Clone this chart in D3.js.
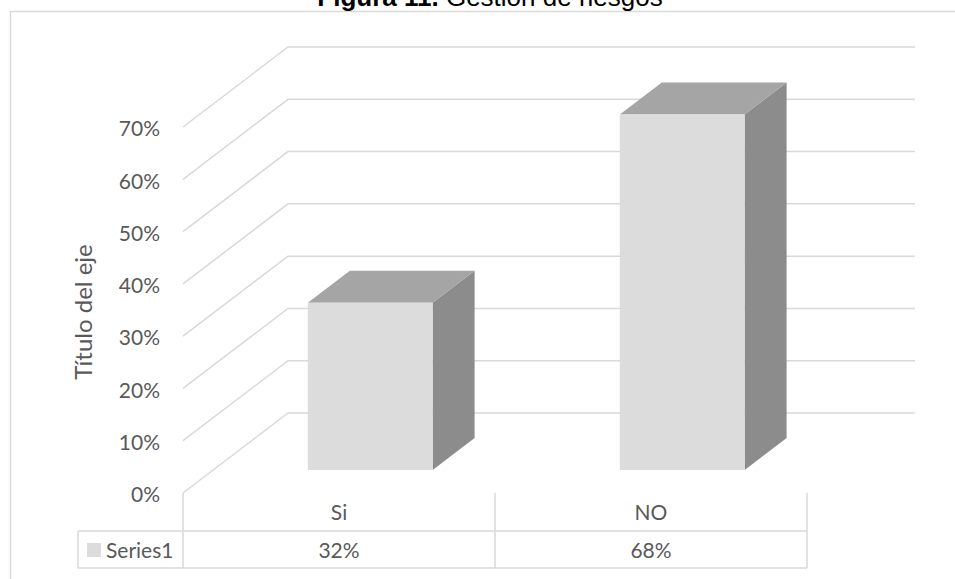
<!DOCTYPE html>
<html>
<head>
<meta charset="utf-8">
<script src="https://cdn.jsdelivr.net/npm/d3@7"></script>
<style>
  html, body { margin: 0; padding: 0; background: #fff; }
  svg { display: block; }
  text { font-family: Lato, "Open Sans", sans-serif; fill: #595959; }
</style>
</head>
<body>
<svg id="chart" width="955" height="579"></svg>
<script>
// Data
const categories = ["Si", "NO"];
const seriesName = "Series1";
const values = [0.32, 0.68];
const tickValues = [0, 0.1, 0.2, 0.3, 0.4, 0.5, 0.6, 0.7];
const axisTitle = "Título del eje";

const svg = d3.select("#chart");

// Chart frame
svg.append("rect")
  .attr("x", 10.5).attr("y", 11.5)
  .attr("width", 960).attr("height", 600)
  .attr("fill", "none").attr("stroke", "#d9d9d9").attr("stroke-width", 1.5);

// Title (sits partly above the frame)
const title = svg.append("text")
  .attr("x", 490).attr("y", 6)
  .attr("text-anchor", "middle")
  .style("font-family", "'Liberation Sans', Arial, sans-serif")
  .style("font-size", "26px")
  .style("fill", "#000");
title.append("tspan").style("font-weight", "bold").text("Figura 11.");
title.append("tspan").text(" Gestión de riesgos");

// Back wall geometry and oblique depth
const backLeft = 288, backRight = 915;
const y = d3.scaleLinear().domain([0, 0.7]).range([413, 47]);
const depthDX = -105, depthDY = 80;          // back wall -> front edge
const fmt = d3.format(".0%");

// Table columns
const tableLeft = 183, tableRight = 807;
const x = d3.scaleBand().domain(categories).range([tableLeft, tableRight]);
const bw = x.bandwidth();

const grid = svg.append("g")
  .attr("stroke", "#d9d9d9").attr("stroke-width", 1.5).attr("fill", "none");

// Side wall diagonals + back wall horizontals
grid.selectAll("path.g").data(tickValues).join("path")
  .attr("class", "g")
  .attr("d", d => {
    const yb = y(d);
    return `M${backLeft + depthDX},${yb + depthDY} L${backLeft},${yb} L${backRight},${yb}`;
  });

// Tick labels on the front edge
svg.append("g").selectAll("text").data(tickValues).join("text")
  .attr("x", 160)
  .attr("y", d => y(d) + depthDY + 2)
  .attr("dy", "0.35em")
  .attr("text-anchor", "end")
  .style("font-size", "21px")
  .text(d => fmt(d));

// Axis title
svg.append("text")
  .attr("transform", `translate(92,${312}) rotate(-90)`)
  .attr("text-anchor", "middle")
  .style("font-size", "24px")
  .text(axisTitle);

// 3D columns
const frontDY = 57;            // bar front face below back-wall plane
const barDX = 42, barDY = -32; // bar depth
const bars = svg.append("g");
categories.forEach((c, i) => {
  const v = values[i];
  const x0 = x(c) + bw * 0.4, x1 = x(c) + bw * 0.8;
  const yTop = y(v) + frontDY, yBot = y(0) + frontDY;
  const g = bars.append("g");
  // side face
  g.append("path")
    .attr("d", `M${x1},${yTop} L${x1 + barDX},${yTop + barDY} L${x1 + barDX},${yBot + barDY} L${x1},${yBot} Z`)
    .attr("fill", "#8c8c8c");
  // top face
  g.append("path")
    .attr("d", `M${x0},${yTop} L${x0 + barDX},${yTop + barDY} L${x1 + barDX},${yTop + barDY} L${x1},${yTop} Z`)
    .attr("fill", "#a5a5a5");
  // front face
  g.append("rect")
    .attr("x", x0).attr("y", yTop)
    .attr("width", x1 - x0).attr("height", yBot - yTop)
    .attr("fill", "#dcdcdc");
});

// Data table
const t0 = 493, t1 = 531, t2 = 568, seriesLeft = 78;
const tbl = svg.append("g")
  .attr("stroke", "#d9d9d9").attr("stroke-width", 1.5).attr("fill", "none");
const colEdges = [tableLeft, ...categories.map(c => x(c) + bw)];
tbl.selectAll("line.v").data(colEdges).join("line")
  .attr("class", "v")
  .attr("x1", d => d).attr("x2", d => d)
  .attr("y1", t0).attr("y2", t2);
tbl.append("line").attr("x1", seriesLeft).attr("x2", tableRight).attr("y1", t1).attr("y2", t1);
tbl.append("line").attr("x1", seriesLeft).attr("x2", tableRight).attr("y1", t2).attr("y2", t2);
tbl.append("line").attr("x1", seriesLeft).attr("x2", seriesLeft).attr("y1", t1).attr("y2", t2);

// Category row
svg.append("g").selectAll("text").data(categories).join("text")
  .attr("x", d => x(d) + bw / 2)
  .attr("y", (t0 + t1) / 2 + 1)
  .attr("dy", "0.35em")
  .attr("text-anchor", "middle")
  .style("font-size", "21px")
  .text(d => d);

// Value row
svg.append("g").selectAll("text").data(values).join("text")
  .attr("x", (d, i) => x(categories[i]) + bw / 2)
  .attr("y", (t1 + t2) / 2 + 1)
  .attr("dy", "0.35em")
  .attr("text-anchor", "middle")
  .style("font-size", "21px")
  .text(d => fmt(d));

// Series legend cell
svg.append("rect")
  .attr("x", 87).attr("y", 543).attr("width", 14).attr("height", 14)
  .attr("fill", "#dcdcdc");
svg.append("text")
  .attr("x", 106).attr("y", (t1 + t2) / 2 + 1)
  .attr("dy", "0.35em")
  .style("font-size", "21px")
  .text(seriesName);
</script>
</body>
</html>
